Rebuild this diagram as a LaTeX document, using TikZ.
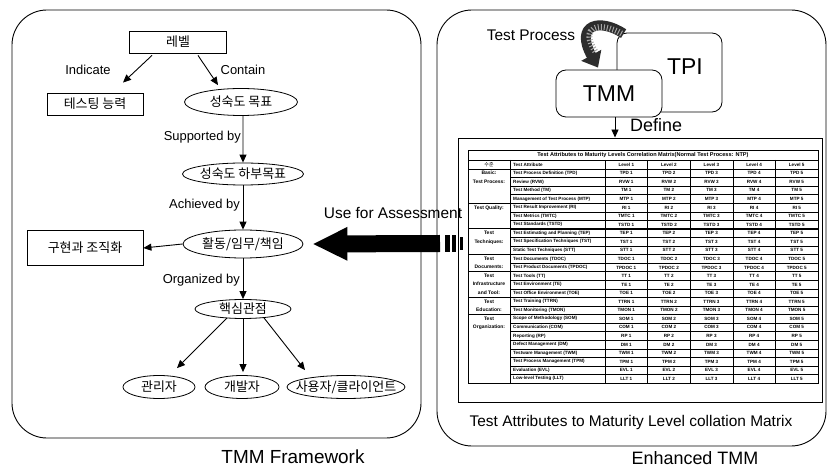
\documentclass[tikz,border=0pt]{standalone}
\usepackage{fontspec}
\setmainfont{Liberation Sans}
\newfontfamily\krfont{Noto Sans CJK KR}
\usetikzlibrary{shapes.geometric,arrows.meta,calc}
\tikzset{
  kr/.style={font=\krfont\fontsize{13}{15}\selectfont, inner sep=0pt},
  kbox/.style={kr, draw, line width=0.8bp},
  kell/.style={kr, ellipse, draw, line width=0.8bp},
  lbl/.style={font=\fontsize{13}{15}\selectfont, inner sep=0pt},
  arr/.style={-{Triangle[length=8bp,width=7bp]}, line width=0.9bp},
  panel/.style={draw, line width=0.9bp, rounded corners=35bp, inner sep=0pt},
  cell/.style={font=\bfseries\fontsize{4.6}{5}\selectfont, inner sep=0pt},
  cat/.style={font=\bfseries\fontsize{5}{8.56}\selectfont, inner sep=0pt, align=center, anchor=north},
  tline/.style={line width=0.45bp},
  gline/.style={line width=0.9bp},
  big/.style={inner sep=0pt},
}
\begin{document}
\begin{tikzpicture}[x=1bp,y=-1bp]
\fill[white] (0,0) rectangle (827,470);
\useasboundingbox (0,0) rectangle (827,470);

% panels
\node[panel, minimum width=409bp, minimum height=428bp] (lp) at (216.5,224) {};
\node[panel, minimum width=389bp, minimum height=436bp] (rp) at (631.5,228) {};

% left framework
\node[kbox, minimum width=97bp, minimum height=22bp] (lev) at (178,42) {레벨};
\node[lbl] (ind) at (88,70) {Indicate};
\node[lbl] (con) at (243,70) {Contain};
\node[kbox, minimum width=96bp, minimum height=22bp] (tst) at (95,104) {테스팅 능력};
\node[kell, minimum width=113bp, minimum height=27bp] (goal) at (241,102) {\makebox[0pt]{성숙도 목표}};
\node[kell, minimum width=121bp, minimum height=22bp] (sub) at (243,174) {\makebox[0pt]{성숙도 하부목표}};
\node[kell, minimum width=120bp, minimum height=28bp] (act) at (243,244) {\makebox[0pt]{활동/임무/책임}};
\node[kbox, minimum width=116bp, minimum height=35bp] (impl) at (85,248) {구현과 조직화};
\node[kell, minimum width=96bp, minimum height=19bp] (core) at (243,309) {\makebox[0pt]{핵심관점}};
\node[kell, minimum width=72bp, minimum height=23bp] (mgr) at (159,387) {\makebox[0pt]{관리자}};
\node[kell, minimum width=74bp, minimum height=23bp] (dev) at (242,387) {\makebox[0pt]{개발자}};
\node[kell, minimum width=118bp, minimum height=23bp] (usr) at (346,387) {\makebox[0pt]{사용자/클라이언트}};
\node[lbl, anchor=east] (sup) at (241,137) {Supported by};
\node[lbl, anchor=east] (ach) at (240,205) {Achieved by};
\node[lbl, anchor=east] (orgl) at (240,280) {Organized by};

\draw[arr] ([xshift=-26bp,yshift=-2bp]lev.south) -- ([xshift=28bp,yshift=10bp]tst.north);
\draw[arr] ([xshift=20bp,yshift=-2bp]lev.south) -- ([xshift=-23bp,yshift=3bp]goal.north);
\draw[arr] ([xshift=2bp]goal.south) -- (sub.north);
\draw[arr] (sub.south) -- (act.north);
\draw[arr] (act.west) -- (impl.east);
\draw[arr] (act.south) -- (core.north);
\draw[arr] ([xshift=-16bp,yshift=1bp]core.south) -- ([xshift=18bp,yshift=7bp]mgr.north);
\draw[arr] (core.south) -- ([xshift=1bp,yshift=3bp]dev.north);
\draw[arr] ([xshift=21bp,yshift=1bp]core.south) -- ([xshift=-41bp,yshift=5bp]usr.north);

\node[big, font=\fontsize{19}{22}\selectfont] (tf) at (293,457) {TMM Framework};

% right side
\node[draw, line width=0.8bp, rounded corners=10bp, minimum width=105bp, minimum height=79bp, inner sep=0pt] (tpi) at (669.5,72.5) {};
\node[big, font=\fontsize{23}{26}\selectfont] (tpil) at (685,67) {TPI};
\node[draw, fill=white, line width=0.8bp, rounded corners=10bp, minimum width=106bp, minimum height=47bp, inner sep=0pt, font=\fontsize{23}{26}\selectfont] (tmm) at (609,93.5) {TMM};
\draw[line width=10bp, gray!35!black, -{Triangle[length=14bp,width=22bp]}] ([xshift=7bp,yshift=-1bp]tpi.north west) .. controls (600,18) and (574,24) .. ([xshift=-11bp,yshift=2bp]tmm.north);
\draw[line width=6bp, gray!70, dash pattern=on 1bp off 2bp] ([xshift=5bp,yshift=-1bp]tpi.north west) .. controls (600,21) and (578,26) .. ([xshift=-13bp,yshift=17bp]tmm.north);
\node[big, font=\fontsize{15.5}{18}\selectfont] (tpr) at (531,35) {Test Process};

\node[draw, line width=0.9bp, minimum width=364bp, minimum height=264bp, inner sep=0pt] (frm) at (640,270) {};
\draw[arr] ([xshift=6bp]tmm.south) -- ([xshift=6bp]tmm.south |- frm.north);
\node[big, font=\fontsize{18}{20}\selectfont, anchor=west] (def) at (630,125) {Define};

% table
\draw[gline] (468,150) rectangle (818,383);
\draw[tline] (468,160) -- (818,160);
\draw[gline] (468,169) -- (818,169);
\foreach \x in {510,605,647.6,690.2,732.8,775.4} \draw[tline] (\x,160) -- (\x,383);
\foreach \i in {1,...,24} {\pgfmathsetmacro\yy{169+\i*8.56} \draw[tline] (510,\yy) -- (818,\yy);}
\foreach \i in {4,7,10,12,15,17} {\pgfmathsetmacro\yy{169+\i*8.56} \draw[gline] (468,\yy) -- (818,\yy);}

\node[cell, font=\bfseries\fontsize{5.6}{7}\selectfont] (ttl) at (643,155) {Test Attributes to Maturity Levels Correlation Matrix(Normal Test Process: NTP)};
\node[cell, font=\krfont\fontsize{5}{6}\selectfont] (h0) at (489,164.5) {수준};
\node[cell, anchor=west] (h1) at (513,164.5) {Test Attribute};
\foreach \l in {1,...,5} \node[cell] (hl\l) at ({605+(\l-0.5)*42.6},164.5) {Level \l};

\foreach \ab/\nm [count=\i] in {TPD/Test Process Definition (TPD), RVW/Review (RVW), TM/Test Method (TM), MTP/Management of Test Process (MTP), RI/Test Result Improvement (RI), TMTC/Test Metrics (TMTC), TSTD/Test Standards (TSTD), TEP/Test Estimating and Planning (TEP), TST/Test Specification Techniques (TST), STT/Static Test Techniques (STT), TDOC/Test Documents (TDOC), TPDOC/Test Product Documents (TPDOC), TT/Test Tools (TT), TE/Test Environment (TE), TOE/Test Office Environment (TOE), TTRN/Test Training (TTRN), TMON/Test Monitoring (TMON), SOM/Scope of Methodology (SOM), COM/Communication (COM), RP/Reporting (RP), DM/Defect Management (DM), TWM/Testware Management (TWM), TPM/Test Process Management (TPM), EVL/Evaluation (EVL), LLT/Low-level Testing (LLT)}{
  \pgfmathsetmacro\yc{169+(\i-0.5)*8.56}
  \node[cell, anchor=west] (a\i) at (513,\yc) {\nm};
  \foreach \l in {1,...,5}{
    \pgfmathsetmacro\xc{605+(\l-0.5)*42.6}
    \node[cell] (v\i-\l) at (\xc,\yc) {\ab\ \l};
  }
}
\node[cat] (g1) at (489,171) {Basic:\\Test Process:};
\node[cat] (g2) at (489,205.2) {Test Quality:};
\node[cat] (g3) at (489,230.9) {Test\\Techniques:};
\node[cat] (g4) at (489,256.6) {Test\\Documents:};
\node[cat] (g5) at (489,273.7) {Test\\Infrastructure\\and Tool:};
\node[cat] (g6) at (489,299.4) {Test\\Education:};
\node[cat] (g7) at (489,316.5) {Test\\Organization:};

\node[big, font=\fontsize{15.5}{18}\selectfont] (cap) at (631,423) {Test Attributes to Maturity Level collation Matrix};
\node[big, font=\fontsize{18}{21}\selectfont] (et) at (695,458) {Enhanced TMM};

% use for assessment
\node[big, font=\fontsize{15.5}{18}\selectfont] (ufa) at (393,213) {Use for Assessment};
\coordinate (asrc) at (440,243.5);
\draw[line width=17bp, -{Triangle[length=35bp,width=31bp]}] (asrc) -- ([xshift=9bp]act.east);
\fill (445,235) rectangle (450,252);
\fill (452,235) rectangle (456,252);
\fill (460,237) rectangle (463,250);
\end{tikzpicture}
\end{document}
